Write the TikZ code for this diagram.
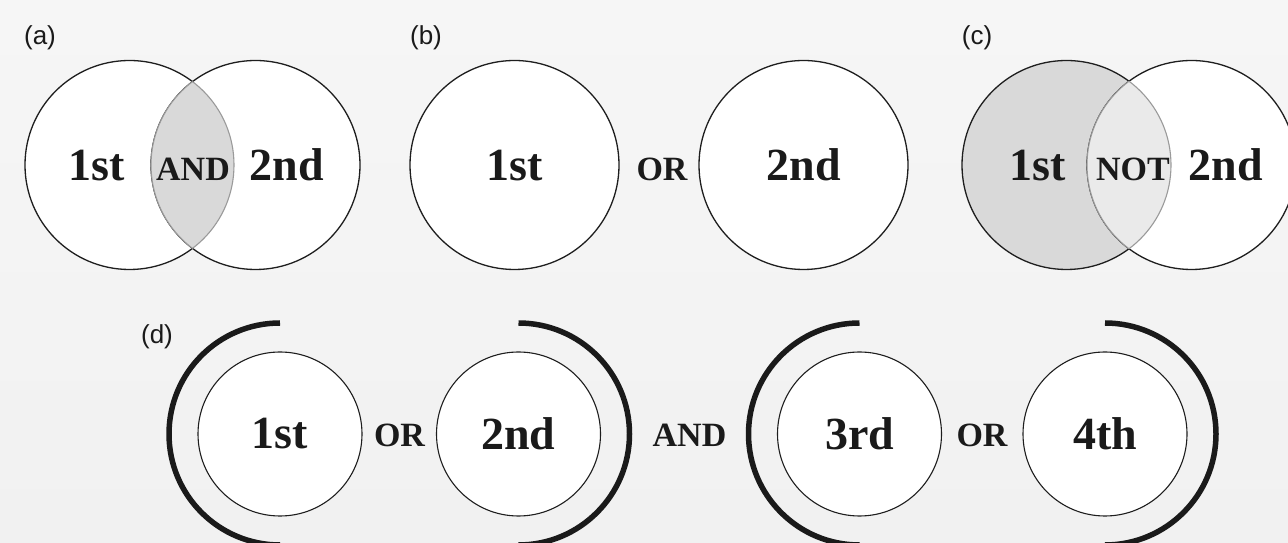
\documentclass[tikz,border=0pt]{standalone}
\usepackage{fontspec}
\setmainfont{Liberation Serif}
\newfontfamily\labelfont{Liberation Sans}
\definecolor{bgtop}{HTML}{F6F6F6}
\definecolor{bgbot}{HTML}{F1F1F1}
\definecolor{linecol}{HTML}{1E1E1E}
\definecolor{txtcol}{HTML}{1A1A1A}
\definecolor{lensfill}{HTML}{D9D9D9}
\definecolor{lenslight}{HTML}{EAEAEA}
\definecolor{lensgray}{HTML}{9A9A9A}
\begin{document}
\begin{tikzpicture}[x=1pt,y=1pt,
  venn/.style={circle, draw=linecol, line width=1.3pt, fill=white, minimum size=209pt, inner sep=0pt, outer sep=0pt},
  small/.style={circle, draw=linecol, line width=1.1pt, fill=white, minimum size=164pt, inner sep=0pt, outer sep=0pt, font=\fontsize{46}{46}\selectfont\bfseries, text=txtcol},
  big/.style={font=\fontsize{46}{46}\selectfont\bfseries, text=txtcol, inner sep=0pt, anchor=base},
  op/.style={font=\fontsize{34}{34}\selectfont\bfseries, text=txtcol, inner sep=0pt, anchor=base},
  tag/.style={font=\labelfont\fontsize{26}{26}\selectfont, text=txtcol, inner sep=0pt},
  bracket/.style={line width=5.5pt, draw=txtcol},
  lensline/.style={draw=lensgray, line width=1.1pt}]
\useasboundingbox (0,0) rectangle (1288,543);
\shade[top color=bgtop, bottom color=bgbot] (0,0) rectangle (1288,543);

% ---------- (a) AND ----------
\node[tag] (la) at (40,505) {(a)};
\node[venn] (a1) at (129.5,378) {};
\node[venn] (a2) at (255.5,378) {};
\begin{scope}
  \clip (a1.center) circle (104.5pt);
  \fill[lensfill] (a2.center) circle (104.5pt);
\end{scope}
\begin{scope}
  \clip (a1.center) circle (104.5pt);
  \draw[lensline] (a2.center) circle (104.5pt);
\end{scope}
\begin{scope}
  \clip (a2.center) circle (104.5pt);
  \draw[lensline] (a1.center) circle (104.5pt);
\end{scope}
\node[big] (a1t) at (97,362) {1st};
\node[op]  (aop) at (193,362) {AND};
\node[big] (a2t) at (287,362) {2nd};

% ---------- (b) OR ----------
\node[tag] (lb) at (426,505) {(b)};
\node[venn] (b1) at (514.5,378) {};
\node[venn] (b2) at (803.5,378) {};
\node[big] (b1t) at (514.5,362) {1st};
\node[op]  (bop) at (662,362) {OR};
\node[big] (b2t) at (803.5,362) {2nd};

% ---------- (c) NOT ----------
\node[tag] (lc) at (977,505) {(c)};
\node[venn, fill=lensfill] (c1) at (1066.5,378) {};
\node[venn] (c2) at (1191.5,378) {};
\begin{scope}
  \clip (c1.center) circle (104.5pt);
  \fill[lenslight] (c2.center) circle (104.5pt);
\end{scope}
\begin{scope}
  \clip (c1.center) circle (104.5pt);
  \draw[lensline] (c2.center) circle (104.5pt);
\end{scope}
\begin{scope}
  \clip (c2.center) circle (104.5pt);
  \draw[lensline] (c1.center) circle (104.5pt);
\end{scope}
\node[big] (c1t) at (1038,362) {1st};
\node[op]  (cop) at (1133,362) {NOT};
\node[big] (c2t) at (1225.5,362) {2nd};

% ---------- (d) combined ----------
\node[tag] (ld) at (157,206) {(d)};
\node[small] (d1) at (280,109) {1st};
\node[small] (d2) at (518.5,109) {2nd};
\node[small] (d3) at (859.5,109) {3rd};
\node[small] (d4) at (1105,109) {4th};
\node[op] (dop1) at (399.5,96) {OR};
\node[op] (dand) at (689.5,96) {AND};
\node[op] (dop2) at (982,96) {OR};
\draw[bracket] (d1.center) ++(0,111) arc[start angle=90, end angle=270, radius=111];
\draw[bracket] (d2.center) ++(0,111) arc[start angle=90, end angle=-90, radius=111];
\draw[bracket] (d3.center) ++(0,111) arc[start angle=90, end angle=270, radius=111];
\draw[bracket] (d4.center) ++(0,111) arc[start angle=90, end angle=-90, radius=111];
\end{tikzpicture}
\end{document}
